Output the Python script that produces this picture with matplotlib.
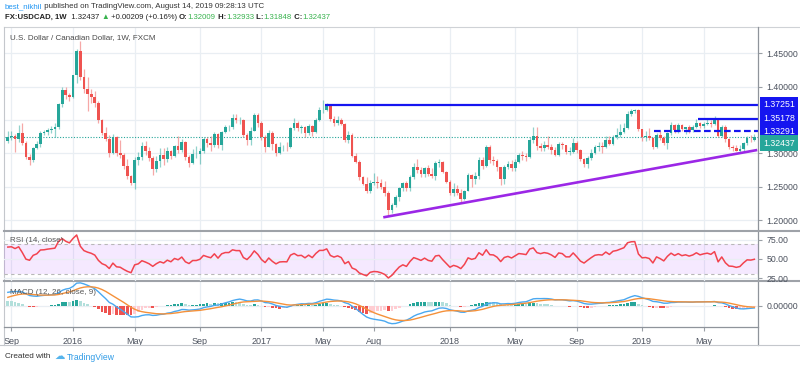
import numpy as np
import pandas as pd
import matplotlib
matplotlib.use('Agg')
import matplotlib.pyplot as plt
from matplotlib.lines import Line2D

# ---------------- data (weekly bars from 2015-08-31) ----------------
# closes before the visible window, only used to warm up the RSI / MACD
pre_close = [1.2530, 1.2450, 1.2530, 1.2510, 1.2640, 1.2750, 1.2460, 1.2550, 1.2470, 1.2500,
             1.2220, 1.2160, 1.2120, 1.2050, 1.2050, 1.2330, 1.2450, 1.2470, 1.2280, 1.2270,
             1.2400, 1.2560, 1.2720, 1.2990, 1.3010, 1.3070, 1.3120, 1.3050, 1.3220, 1.3180]

close = [
    1.3250, 1.3265, 1.3220, 1.3300, 1.3150, 1.2940, 1.2900, 1.3080, 1.3140, 1.3310,
    1.3320, 1.3350, 1.3370, 1.3390, 1.3740, 1.3950, 1.3880, 1.3840, 1.4170, 1.4540,
    1.4150, 1.3960, 1.3890, 1.3840, 1.3760, 1.3500, 1.3310, 1.3220, 1.3000, 1.3250,
    1.3000, 1.2970, 1.2810, 1.2660, 1.2550, 1.2900, 1.2950, 1.3110, 1.3030, 1.2930,
    1.2770, 1.2890, 1.2980, 1.2910, 1.3040, 1.2960, 1.3110, 1.3050, 1.3175, 1.2950,
    1.2860, 1.2990, 1.2990, 1.3040, 1.3210, 1.3160, 1.3120, 1.3290, 1.3125, 1.3325,
    1.3390, 1.3390, 1.3525, 1.3500, 1.3500, 1.3275, 1.3200, 1.3340, 1.3575, 1.3450,
    1.3240, 1.3100, 1.3300, 1.3140, 1.3010, 1.3090, 1.3100, 1.3095, 1.3375, 1.3460,
    1.3375, 1.3390, 1.3300, 1.3410, 1.3320, 1.3500, 1.3650, 1.3650, 1.3725, 1.3510,
    1.3450, 1.3500, 1.3440, 1.3200, 1.3275, 1.2960, 1.2875, 1.2650, 1.2540, 1.2440,
    1.2550, 1.2575, 1.2560, 1.2500, 1.2400, 1.2150, 1.2225, 1.2350, 1.2475, 1.2550,
    1.2475, 1.2650, 1.2800, 1.2750, 1.2690, 1.2775, 1.2690, 1.2660, 1.2850, 1.2875,
    1.2725, 1.2575, 1.2400, 1.2460, 1.2410, 1.2310, 1.2440, 1.2680, 1.2620, 1.2660,
    1.2900, 1.2810, 1.3090, 1.2900, 1.2890, 1.2800, 1.2610, 1.2790, 1.2840, 1.2775,
    1.2875, 1.2975, 1.2960, 1.2940, 1.3200, 1.3260, 1.3110, 1.3075, 1.3120, 1.3100,
    1.3050, 1.2975, 1.3140, 1.3120, 1.3025, 1.3025, 1.3160, 1.3050, 1.2910, 1.2840,
    1.2925, 1.3010, 1.3090, 1.3110, 1.3100, 1.3200, 1.3140, 1.3250, 1.3275, 1.3325,
    1.3375, 1.3590, 1.3640, 1.3650, 1.3365, 1.3250, 1.3260, 1.3230, 1.3090, 1.3280,
    1.3225, 1.3150, 1.3300, 1.3420, 1.3350, 1.3420, 1.3360, 1.3390, 1.3355, 1.3390,
    1.3460, 1.3410, 1.3440, 1.3460, 1.3435, 1.3510, 1.3260, 1.3400, 1.3215, 1.3090,
    1.3080, 1.3040, 1.3060, 1.3150, 1.3230, 1.32228, 1.32437]

high = [
    1.3330, 1.3330, 1.3290, 1.3420, 1.3457, 1.3180, 1.2990, 1.3100, 1.3190, 1.3330,
    1.3350, 1.3380, 1.3410, 1.3450, 1.3760, 1.4000, 1.3990, 1.3910, 1.4180, 1.4560,
    1.4690, 1.4270, 1.4150, 1.3970, 1.3930, 1.3780, 1.3520, 1.3400, 1.3270, 1.3290,
    1.3260, 1.3200, 1.3000, 1.2920, 1.2680, 1.2940, 1.3020, 1.3170, 1.3190, 1.3100,
    1.2960, 1.2960, 1.3080, 1.3080, 1.3100, 1.3050, 1.3130, 1.3260, 1.3210, 1.3180,
    1.2980, 1.3060, 1.3110, 1.3080, 1.3250, 1.3240, 1.3260, 1.3320, 1.3300, 1.3340,
    1.3420, 1.3430, 1.3590, 1.3590, 1.3550, 1.3520, 1.3300, 1.3390, 1.3600, 1.3600,
    1.3480, 1.3280, 1.3350, 1.3340, 1.3150, 1.3170, 1.3130, 1.3170, 1.3390, 1.3530,
    1.3480, 1.3420, 1.3410, 1.3440, 1.3430, 1.3530, 1.3690, 1.3793, 1.3750, 1.3740,
    1.3560, 1.3560, 1.3530, 1.3460, 1.3340, 1.3300, 1.3000, 1.2900, 1.2660, 1.2640,
    1.2600, 1.2700, 1.2660, 1.2620, 1.2580, 1.2430, 1.2260, 1.2380, 1.2500, 1.2570,
    1.2590, 1.2680, 1.2860, 1.2920, 1.2790, 1.2800, 1.2830, 1.2780, 1.2880, 1.2920,
    1.2890, 1.2740, 1.2600, 1.2550, 1.2520, 1.2470, 1.2450, 1.2700, 1.2690, 1.2720,
    1.2950, 1.2950, 1.3125, 1.3120, 1.2960, 1.2920, 1.2800, 1.2830, 1.2880, 1.2900,
    1.2920, 1.3000, 1.3040, 1.3000, 1.3240, 1.3390, 1.3390, 1.3160, 1.3180, 1.3260,
    1.3140, 1.3090, 1.3170, 1.3170, 1.3130, 1.3090, 1.3230, 1.3180, 1.3060, 1.2930,
    1.2960, 1.3070, 1.3130, 1.3170, 1.3170, 1.3260, 1.3260, 1.3280, 1.3385, 1.3440,
    1.3450, 1.3640, 1.3665, 1.3670, 1.3665, 1.3370, 1.3340, 1.3380, 1.3250, 1.3310,
    1.3340, 1.3260, 1.3320, 1.3470, 1.3440, 1.3460, 1.3440, 1.3400, 1.3420, 1.3420,
    1.3520, 1.3470, 1.3470, 1.3520, 1.3500, 1.3566, 1.3520, 1.3420, 1.3430, 1.3230,
    1.3130, 1.3130, 1.3130, 1.3170, 1.3260, 1.3270, 1.32933]

low = [
    1.3160, 1.3200, 1.3025, 1.3170, 1.3120, 1.2910, 1.2832, 1.2870, 1.3060, 1.3100,
    1.3270, 1.3280, 1.3310, 1.3240, 1.3360, 1.3690, 1.3820, 1.3780, 1.3830, 1.4050,
    1.4100, 1.3900, 1.3640, 1.3760, 1.3690, 1.3460, 1.3280, 1.3180, 1.2940, 1.2990,
    1.2960, 1.2930, 1.2770, 1.2620, 1.2520, 1.2461, 1.2820, 1.2900, 1.2980, 1.2880,
    1.2680, 1.2720, 1.2800, 1.2830, 1.2870, 1.2920, 1.2940, 1.3000, 1.3020, 1.2900,
    1.2800, 1.2840, 1.2930, 1.2840, 1.3010, 1.3100, 1.3030, 1.3100, 1.3080, 1.3050,
    1.3300, 1.3330, 1.3370, 1.3450, 1.3440, 1.3250, 1.3130, 1.3120, 1.3330, 1.3400,
    1.3200, 1.3020, 1.3100, 1.3050, 1.2960, 1.2990, 1.3030, 1.3040, 1.3080, 1.3350,
    1.3330, 1.3300, 1.3250, 1.3270, 1.3260, 1.3300, 1.3480, 1.3600, 1.3640, 1.3480,
    1.3410, 1.3430, 1.3420, 1.3170, 1.3160, 1.2950, 1.2850, 1.2600, 1.2520, 1.2410,
    1.2410, 1.2530, 1.2480, 1.2460, 1.2360, 1.2061, 1.2100, 1.2200, 1.2280, 1.2440,
    1.2430, 1.2440, 1.2620, 1.2700, 1.2650, 1.2640, 1.2660, 1.2630, 1.2600, 1.2800,
    1.2700, 1.2550, 1.2380, 1.2360, 1.2380, 1.2250, 1.2300, 1.2430, 1.2490, 1.2540,
    1.2620, 1.2770, 1.2790, 1.2860, 1.2830, 1.2730, 1.2530, 1.2540, 1.2760, 1.2730,
    1.2740, 1.2850, 1.2900, 1.2890, 1.2930, 1.3160, 1.3050, 1.3030, 1.3030, 1.3060,
    1.2990, 1.2960, 1.2960, 1.3070, 1.2990, 1.2975, 1.3000, 1.3000, 1.2880, 1.2800,
    1.2782, 1.2900, 1.2990, 1.3030, 1.3000, 1.3080, 1.3120, 1.3130, 1.3220, 1.3240,
    1.3300, 1.3360, 1.3560, 1.3600, 1.3340, 1.3180, 1.3180, 1.3200, 1.3069, 1.3080,
    1.3200, 1.3120, 1.3070, 1.3270, 1.3300, 1.3300, 1.3330, 1.3290, 1.3300, 1.3320,
    1.3380, 1.3380, 1.3380, 1.3420, 1.3400, 1.3430, 1.3240, 1.3240, 1.3170, 1.3070,
    1.3030, 1.3030, 1.3016, 1.3040, 1.3120, 1.3170, 1.31848]

last_open = 1.32009

tick_dates = ['2015-09-07', '2016-01-04', '2016-05-02', '2016-09-05', '2017-01-02', '2017-05-01',
              '2017-08-07', '2018-01-01', '2018-05-07', '2018-09-03', '2019-01-07', '2019-05-06']
tick_labels = ['Sep', '2016', 'May', 'Sep', '2017', 'May', 'Aug', '2018', 'May', 'Sep', '2019', 'May']

# drawings: horizontal levels (price, starting bar) and the rising trend line
level_prices = [1.37251, 1.35178, 1.33291]
level_start = [87.5, 190.4, 178.4]
level_dashed = [False, False, True]
trend_x = [103.6, 206.8]
trend_y = [1.2040, 1.3050]

# ---------------- derived series ----------------
close = np.array(close)
high = np.array(high)
low = np.array(low)
n = len(close)
x = np.arange(n)
open_ = np.r_[pre_close[-1], close[:-1]]
open_[-1] = last_open
high = np.maximum(high, np.maximum(open_, close))
low = np.minimum(low, np.minimum(open_, close))

full = pd.Series(np.r_[pre_close, close])
delta = full.diff()
gain = delta.clip(lower=0).ewm(alpha=1 / 14, adjust=False).mean()
loss = (-delta.clip(upper=0)).ewm(alpha=1 / 14, adjust=False).mean()
rsi = (100 - 100 / (1 + gain / loss)).values[len(pre_close):]
macd_full = full.ewm(span=12, adjust=False).mean() - full.ewm(span=26, adjust=False).mean()
sig_full = macd_full.ewm(span=9, adjust=False).mean()
hist_full = (macd_full - sig_full).values
k0 = len(pre_close)
macd = macd_full.values[k0:]
signal = sig_full.values[k0:]
hist = hist_full[k0:]
hist_prev = hist_full[k0 - 1:-1]

dates = pd.date_range('2015-08-31', periods=n, freq='7D')
tick_pos = [dates.get_loc(pd.Timestamp(d)) for d in tick_dates]

# ---------------- figure ----------------
W, H = 800, 368
plt.rcParams['font.family'] = ['Liberation Sans', 'DejaVu Sans']
fig = plt.figure(figsize=(W / 100, H / 100), dpi=100)
fig.patch.set_facecolor('white')

UP, DOWN = '#26a69a', '#ef5350'
GRID = '#e9eef3'
TXT = '#4c525e'
BLUE = '#1515f0'


def add_ax(l, t, r, b):
    return fig.add_axes([l / W, 1 - b / H, (r - l) / W, (b - t) / H])


def hline(y, x0, x1, color, lw):
    fig.add_artist(Line2D([x0 / W, x1 / W], [1 - y / H, 1 - y / H], transform=fig.transFigure,
                          color=color, lw=lw))


def vline(xp, y0, y1, color, lw):
    fig.add_artist(Line2D([xp / W, xp / W], [1 - y0 / H, 1 - y1 / H], transform=fig.transFigure,
                          color=color, lw=lw))


ax1 = add_ax(4, 27, 758, 230.5)
ax2 = add_ax(4, 231.5, 758, 280.5)
ax3 = add_ax(4, 281.5, 758, 327.3)
# RSI pane drawn above the pane separators so its "25.00" label stays readable
ax2.set_zorder(3)
ax2.patch.set_visible(False)

for ax in (ax1, ax2, ax3):
    ax.set_xlim(-1.05, 207.0)
    for s in ax.spines.values():
        s.set_visible(False)
    ax.yaxis.tick_right()
    ax.tick_params(axis='y', which='both', length=3, color='#9aa0a6', labelsize=6.3,
                   labelcolor=TXT, pad=3)
    ax.tick_params(axis='x', length=0, labelbottom=False)
    for p in tick_pos:
        ax.axvline(p, color=GRID, lw=0.9, zorder=0)

# ---- price pane ----
ax1.set_ylim(1.18425, 1.4895)
for p in [1.20, 1.25, 1.30, 1.35, 1.40, 1.45]:
    ax1.axhline(p, color=GRID, lw=0.9, zorder=0)
ax1.set_yticks([1.20, 1.25, 1.30, 1.40, 1.45])
ax1.set_yticklabels(['%.5f' % v for v in [1.20, 1.25, 1.30, 1.40, 1.45]])

up = close >= open_
col = np.where(up, UP, DOWN)
ax1.vlines(x, low, high, colors=col, lw=0.9, alpha=0.5, zorder=2)
body_lo = np.minimum(open_, close)
body_h = np.maximum(np.abs(close - open_), 0.0007)
ax1.bar(x, body_h, bottom=body_lo, width=0.75, color=col, lw=0, zorder=3)

ax1.axhline(close[-1], color=UP, lw=0.8, ls=(0, (1, 1.5)), zorder=1)
for pr, st, dsh in zip(level_prices, level_start, level_dashed):
    ax1.plot([st, 207.0], [pr, pr], color=BLUE, lw=1.6, ls=(0, (3, 1.5)) if dsh else '-',
             zorder=4, solid_capstyle='butt')
ax1.plot(trend_x, trend_y, color='#9b27e6', lw=1.9, zorder=4, solid_capstyle='butt')

ax1.text(6 / 754, 1 - (37.7 - 27) / 203.5, 'U.S. Dollar / Canadian Dollar, 1W, FXCM',
         transform=ax1.transAxes, fontsize=5.8, color='#4a4a4a', va='center', ha='left')

# price labels on the right axis
box_labels = [(1.37251, '1.37251', BLUE), (1.35178, '1.35178', BLUE), (1.33291, '1.33291', BLUE),
              (1.3155, '%.5f' % close[-1], UP)]
for yy, s, c in box_labels:
    ax1.text(1 + 5 / 754, yy, s, transform=ax1.get_yaxis_transform(), fontsize=6.3,
             color='white', va='center', ha='left', clip_on=False, zorder=6,
             bbox=dict(boxstyle='square,pad=0.35', fc=c, ec=c, lw=0))

# ---- RSI pane ----
ax2.set_ylim(21.9, 85.7)
ax2.axhspan(30, 70, color='#9915ff', alpha=0.09, lw=0, zorder=0)
for v in (25, 50, 75):
    ax2.axhline(v, color=GRID, lw=0.9, zorder=0)
for v in (30, 70):
    ax2.axhline(v, color='#b8b8b8', lw=0.8, ls=(0, (3, 3)), zorder=1)
ax2.plot(x, rsi, color='#f2434f', lw=1.1, zorder=3)
ax2.set_yticks([25, 50, 75])
ax2.set_yticklabels(['25.00', '50.00', '75.00'])
ax2.text(6 / 754, 1 - (240.5 - 231.5) / 49, 'RSI (14, close)', transform=ax2.transAxes,
         fontsize=5.8, color='#555555', va='center', ha='left', zorder=5)

# ---- MACD pane ----
top = max(macd.max(), signal.max(), hist.max()) * 1.06
bot = min(-0.887 * top, min(macd.min(), signal.min()) * 1.06)
ax3.set_ylim(bot, top)
ax3.axhline(0, color=GRID, lw=0.9, zorder=0)
hcol = np.where(hist >= 0, np.where(hist > hist_prev, '#26a69a', '#b2dfdb'),
                np.where(hist < hist_prev, '#ef5350', '#ffcdd2'))
ax3.bar(x, hist, width=0.75, color=hcol, lw=0, zorder=2)
ax3.plot(x, macd, color='#4aa8f0', lw=1.0, zorder=3)
ax3.plot(x, signal, color='#f5913a', lw=1.0, zorder=3)
ax3.set_yticks([0])
ax3.set_yticklabels(['0.00000'])
ax3.text(6 / 754, 1 - (292.5 - 281.5) / 45.8, 'MACD (12, 26, close, 9)', transform=ax3.transAxes,
         fontsize=5.8, color='#555555', va='center', ha='left', zorder=5)

ax3.set_xticks(tick_pos)
ax3.set_xticklabels(tick_labels)
ax3.tick_params(axis='x', length=3, color='#9aa0a6', labelbottom=True, labelsize=6.5,
                labelcolor=TXT, pad=4)

# ---- frame lines ----
hline(26.7, 4, 800, '#cfd2d6', 0.8)
vline(4, 26.7, 345, '#c4c7cc', 0.8)
vline(758, 26.7, 345, '#8f949b', 0.9)
hline(231.0, 4, 800, '#9ea2a8', 1.5)
hline(281.0, 4, 800, '#9ea2a8', 1.5)
hline(327.3, 4, 758, '#8f949b', 0.9)
hline(345.0, 0, 800, '#c4c7cc', 0.8)

# ---- header and footer ----
renderer = fig.canvas.get_renderer()


def text_row(parts, x0, y, size):
    xp = x0
    for s, c, wt in parts:
        t = fig.text(xp / W, 1 - y / H, s, color=c, fontweight=wt, fontsize=size, va='center',
                     ha='left')
        xp += t.get_window_extent(renderer).width
    return xp


GREEN = '#37b24d'
text_row([('best_nikhil', '#2196f3', 'normal'),
          (' published on TradingView.com, August 14, 2019 09:28:13 UTC', '#333333', 'normal')],
         5, 7, 5.7)
text_row([('FX:USDCAD, 1W', '#222222', 'bold'), ('  1.32437 ', '#222222', 'normal'),
          ('\u25b2', GREEN, 'normal'), (' +0.00209 (+0.16%) ', '#222222', 'normal'),
          ('O:', '#222222', 'bold'), ('1.32009', GREEN, 'normal'),
          (' H:', '#222222', 'bold'), ('1.32933', GREEN, 'normal'),
          (' L:', '#222222', 'bold'), ('1.31848', GREEN, 'normal'),
          (' C:', '#222222', 'bold'), ('1.32437', GREEN, 'normal')], 5, 17.7, 5.6)

xe = text_row([('Created with', '#333333', 'normal')], 5, 357, 5.9)
fig.text((xe + 4) / W, 1 - 356 / H, '\u2601', color='#56b4ec', fontsize=7.5, va='center',
         ha='left', family='DejaVu Sans')
fig.text((xe + 16) / W, 1 - 357 / H, 'TradingView', color='#2f9be6', fontsize=6.2,
         va='center', ha='left')

fig.savefig('out.png', dpi=100, facecolor='white')
